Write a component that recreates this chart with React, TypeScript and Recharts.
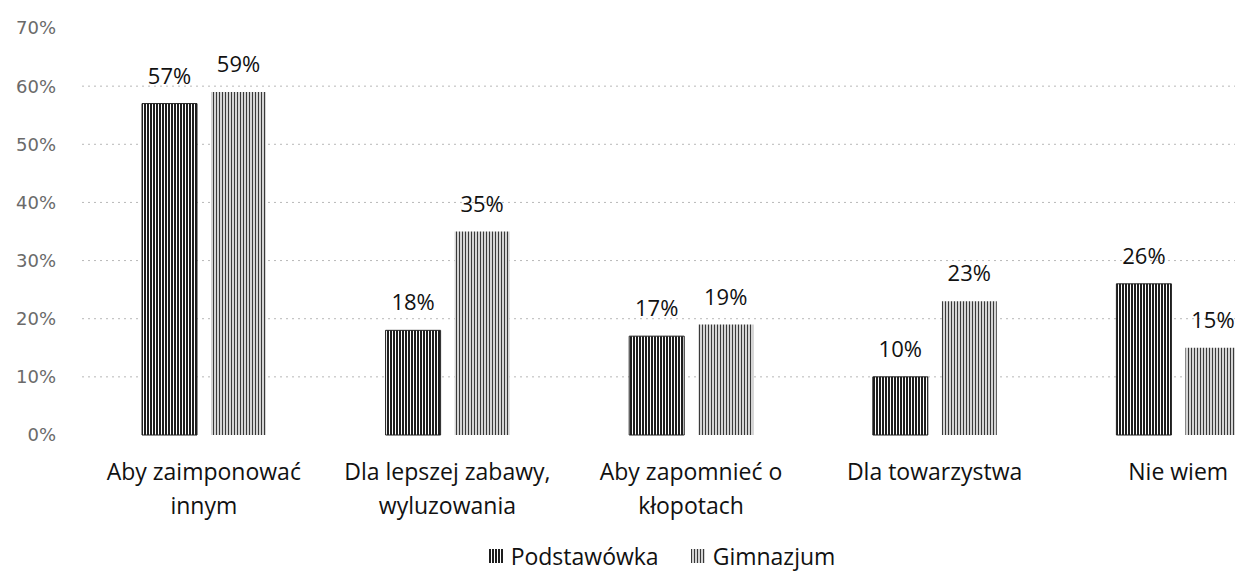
import { Bar, BarChart, CartesianGrid, LabelList, Legend, XAxis, YAxis } from "recharts"

const categories = [
  "Aby zaimponować\ninnym",
  "Dla lepszej zabawy,\nwyluzowania",
  "Aby zapomnieć o\nkłopotach",
  "Dla towarzystwa",
  "Nie wiem",
]
const podstawowka = [57, 18, 17, 10, 26]
const gimnazjum = [59, 35, 19, 23, 15]
const yTicks = [0, 10, 20, 30, 40, 50, 60, 70]

const data = categories.map((name, i) => ({
  name,
  podstawowka: podstawowka[i],
  gimnazjum: gimnazjum[i],
}))

const FONT = "'Open Sans', 'Noto Sans', sans-serif"

function CategoryTick({ x, y, payload }: { x?: number; y?: number; payload?: { value: string } }) {
  const lines = String(payload?.value ?? "").split("\n")
  return (
    <text x={x} y={(y ?? 0) + 45} textAnchor="middle" fill="#111" fontSize={23} fontFamily={FONT}>
      {lines.map((line, i) => (
        <tspan key={i} x={x} dy={i === 0 ? 0 : 34}>
          {line}
        </tspan>
      ))}
    </text>
  )
}

function LegendContent() {
  const items = [
    { label: "Podstawówka", fill: "url(#hatchDark)" },
    { label: "Gimnazjum", fill: "url(#hatchLight)" },
  ]
  return (
    <div
      style={{
        display: "flex",
        justifyContent: "center",
        alignItems: "center",
        height: 36,
        gap: 32,
        paddingLeft: 24,
        paddingTop: 6,
        boxSizing: "border-box",
      }}
    >
      {items.map((it) => (
        <div key={it.label} style={{ display: "flex", alignItems: "center", height: 30 }}>
          <svg width={14} height={14} style={{ marginRight: 8 }}>
            <rect width={14} height={14} fill={it.fill} />
          </svg>
          <span style={{ fontFamily: FONT, fontSize: 23, lineHeight: "30px", color: "#111" }}>{it.label}</span>
        </div>
      ))}
    </div>
  )
}

export default function App() {
  return (
    <div
      style={{
        position: "fixed",
        left: 0,
        top: 0,
        width: 1235,
        height: 573,
        overflow: "hidden",
        background: "#fff",
      }}
    >
      {/* hatch fills shared by bars and legend */}
      <svg width={0} height={0} style={{ position: "absolute" }}>
        <defs>
          <pattern id="hatchDark" width={3} height={4} patternUnits="userSpaceOnUse">
            <rect width={3} height={4} fill="#fff" />
            <rect width={2} height={4} fill="#1e1e1e" />
          </pattern>
          <pattern id="hatchLight" width={3} height={4} patternUnits="userSpaceOnUse">
            <rect width={3} height={4} fill="#d4d4d4" />
            <rect width={1} height={4} fill="#3a3a3a" />
          </pattern>
        </defs>
      </svg>
      <BarChart
        width={1310}
        height={573}
        data={data}
        margin={{ top: 28, right: 10, left: 0, bottom: 0 }}
        barSize={55}
        barGap={14}
      >
        <CartesianGrid
          vertical={false}
          horizontalValues={[10, 20, 30, 40, 50, 60]}
          stroke="#b8b8b8"
          strokeDasharray="2 4"
        />
        <XAxis
          dataKey="name"
          interval={0}
          height={100}
          axisLine={false}
          tickLine={false}
          tickSize={0}
          tickMargin={0}
          tick={<CategoryTick />}
        />
        <YAxis
          width={82}
          domain={[0, 70]}
          ticks={yTicks}
          tickFormatter={(v) => `${v}%`}
          axisLine={false}
          tickLine={false}
          tickSize={0}
          tickMargin={26}
          tick={{ fill: "#6a6a6a", fontSize: 18, fontFamily: "'DejaVu Sans', sans-serif" }}
        />
        <Legend verticalAlign="bottom" height={38} content={<LegendContent />} />
        <Bar
          dataKey="podstawowka"
          name="Podstawówka"
          fill="url(#hatchDark)"
          stroke="#222"
          strokeWidth={1}
          isAnimationActive={false}
        >
          <LabelList
            dataKey="podstawowka"
            position="top"
            offset={20}
            formatter={(v) => `${v}%`}
            style={{ fill: "#111", fontSize: 22, fontFamily: FONT }}
          />
        </Bar>
        <Bar dataKey="gimnazjum" name="Gimnazjum" fill="url(#hatchLight)" isAnimationActive={false}>
          <LabelList
            dataKey="gimnazjum"
            position="top"
            offset={20}
            formatter={(v) => `${v}%`}
            style={{ fill: "#111", fontSize: 22, fontFamily: FONT }}
          />
        </Bar>
      </BarChart>
    </div>
  )
}
